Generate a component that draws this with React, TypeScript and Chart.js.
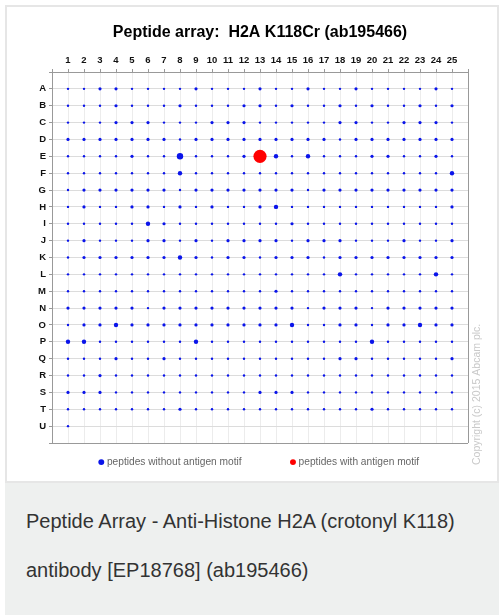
import React, { useEffect, useRef } from 'react';
import { Chart, registerables } from 'chart.js';

Chart.register(...registerables);

// ---------- data ----------
const chartTitle = 'Peptide array:  H2A K118Cr (ab195466)';
const columnLabels = ['1', '2', '3', '4', '5', '6', '7', '8', '9', '10', '11', '12', '13', '14', '15', '16', '17', '18', '19', '20', '21', '22', '23', '24', '25'];
const rowLabels = ['A', 'B', 'C', 'D', 'E', 'F', 'G', 'H', 'I', 'J', 'K', 'L', 'M', 'N', 'O', 'P', 'Q', 'R', 'S', 'T', 'U'];
// spot signal level per cell (0 = no spot in this series), one string per row, columns 1..25
const spotIntensity = [
  '1122111121112112112111121', // A
  '1112111211122121121211212', // B
  '1112221112221111122112221', // C
  '2222222122222222212222222', // D
  '1111211411120313111221121', // E
  '1111111311111111111111113', // F
  '1222222122222221222222222', // G
  '1211221212112311111111112', // H
  '1111132111111121111111111', // I
  '1211122121222212221112112', // J
  '1222222321221222122222222', // K
  '1111111111111111131111131', // L
  '1111111111111211111111111', // M
  '2222212222222221222122222', // N
  '1223222222222231122122322', // O
  '3311111131111111111311111', // P
  '1112112111111111122111112', // Q
  '1121111111111111111111111', // R
  '2221111111112221111111111', // S
  '1111111211111111111211111', // T
  '1', // U
];
// spots of peptides carrying the antigen motif: [row, column, level]
const antigenSpots: [string, number, number][] = [['E', 13, 5]];
const seriesNames = ['peptides without antigen motif', 'peptides with antigen motif'];
const copyrightText = 'Copyright (c) 2015 Abcam plc.';
const captionLines = ['Peptide Array - Anti-Histone H2A (crotonyl K118)', 'antibody [EP18768] (ab195466)'];

// ---------- styling ----------
const FONT = '"Liberation Sans", Arial, Helvetica, sans-serif';
const levelRadius = [0, 1.2, 1.6, 2.2, 3.2, 6.6];
const BLUE = '#0a14ea';
const RED = '#ff0000';

function buildSpots() {
  const pts: { x: number; y: number; r: number }[] = [];
  spotIntensity.forEach((row, ri) => {
    row.split('').forEach((ch, ci) => {
      const lvl = Number(ch);
      if (lvl > 0) pts.push({ x: ci + 1, y: ri + 1, r: levelRadius[lvl] });
    });
  });
  return pts;
}

function buildAntigen() {
  return antigenSpots.map(([row, col, lvl]) => ({ x: col, y: rowLabels.indexOf(row) + 1, r: levelRadius[lvl] }));
}

const copyrightPlugin = {
  id: 'copyright',
  afterDraw(chart: any) {
    const { ctx } = chart;
    ctx.save();
    ctx.translate(477, 465);
    ctx.rotate(-Math.PI / 2);
    ctx.fillStyle = '#c9c9c9';
    ctx.font = `10.5px ${FONT}`;
    ctx.textAlign = 'left';
    ctx.textBaseline = 'middle';
    ctx.fillText(copyrightText, 0, 0);
    ctx.restore();
  },
};

export default function App() {
  const ref = useRef<HTMLCanvasElement | null>(null);

  useEffect(() => {
    if (!ref.current) return;
    const chart = new Chart(ref.current, {
      type: 'bubble',
      data: {
        datasets: [
          { label: seriesNames[0], data: buildSpots(), backgroundColor: BLUE, borderColor: BLUE, borderWidth: 0 },
          { label: seriesNames[1], data: buildAntigen(), backgroundColor: RED, borderColor: RED, borderWidth: 0 },
        ],
      },
      options: {
        responsive: false,
        animation: false,
        events: [],
        layout: { padding: { left: 36, right: 36, top: 23.4, bottom: 5.8 } },
        plugins: {
          title: {
            display: true,
            text: chartTitle,
            fullSize: false,
            color: '#000',
            font: { family: FONT, size: 16, weight: 'bold' },
            padding: { top: 0, bottom: 0 },
          },
          legend: {
            position: 'bottom',
            fullSize: false,
            labels: {
              usePointStyle: true,
              pointStyle: 'circle',
              boxWidth: 1,
              boxHeight: 4.2,
              padding: 14,
              color: '#666',
              font: { family: FONT, size: 10.2 },
              generateLabels: (c: any) => {
                const items = Chart.defaults.plugins.legend.labels.generateLabels(c);
                return items.map((it: any, i: number) => ({
                  ...it,
                  lineWidth: 0,
                  text: i === 0 ? it.text + '             ' : it.text,
                }));
              },
            },
          },
          tooltip: { enabled: false },
        },
        scales: {
          x: {
            type: 'linear',
            position: 'top',
            min: 0,
            max: 26,
            afterFit: (s: any) => { s.height = 29.4; },
            border: { display: true, color: '#999' },
            grid: {
              color: (c: any) => (c.tick && c.tick.value === 26 ? '#999' : '#ececec'),
              tickColor: '#999',
              tickLength: 3,
            },
            ticks: {
              stepSize: 1,
              autoSkip: false,
              maxRotation: 0,
              padding: 3,
              color: '#111',
              font: { family: FONT, size: 9.5, weight: 'bold' },
              callback: (v: any) => columnLabels[Number(v) - 1] ?? '',
            },
          },
          y: {
            type: 'linear',
            reverse: true,
            min: 0,
            max: 22,
            afterFit: (s: any) => { s.width = 16; },
            border: { display: true, color: '#999' },
            grid: {
              color: (c: any) => (c.tick && c.tick.value === 22 ? '#999' : '#dcdcdc'),
              tickColor: '#999',
              tickLength: 3,
            },
            ticks: {
              stepSize: 1,
              autoSkip: false,
              padding: 3,
              color: '#111',
              font: { family: FONT, size: 9.5, weight: 'bold' },
              callback: (v: any) => rowLabels[Number(v) - 1] ?? '',
            },
          },
        },
      } as any,
      plugins: [copyrightPlugin],
    });
    return () => chart.destroy();
  }, []);

  return (
    <div style={{ position: 'absolute', left: 0, top: 0, width: 504, height: 616, background: '#fff', overflow: 'hidden' }}>
      <div
        style={{
          position: 'absolute', left: 5, top: 5, width: 494, height: 478,
          border: '2px solid #e6e6e6', boxSizing: 'border-box',
        }}
      />
      <canvas ref={ref} width={504} height={483} style={{ position: 'absolute', left: 0, top: 0, width: 504, height: 483 }} />
      <div
        style={{
          position: 'absolute', left: 5, top: 483, width: 494, height: 132,
          background: '#eef0ef', boxSizing: 'border-box', paddingLeft: 21, paddingTop: 13.6,
          fontFamily: FONT, fontSize: 20, lineHeight: '49px', color: '#333',
        }}
      >
        {captionLines[0]}
        <br />
        {captionLines[1]}
      </div>
    </div>
  );
}
